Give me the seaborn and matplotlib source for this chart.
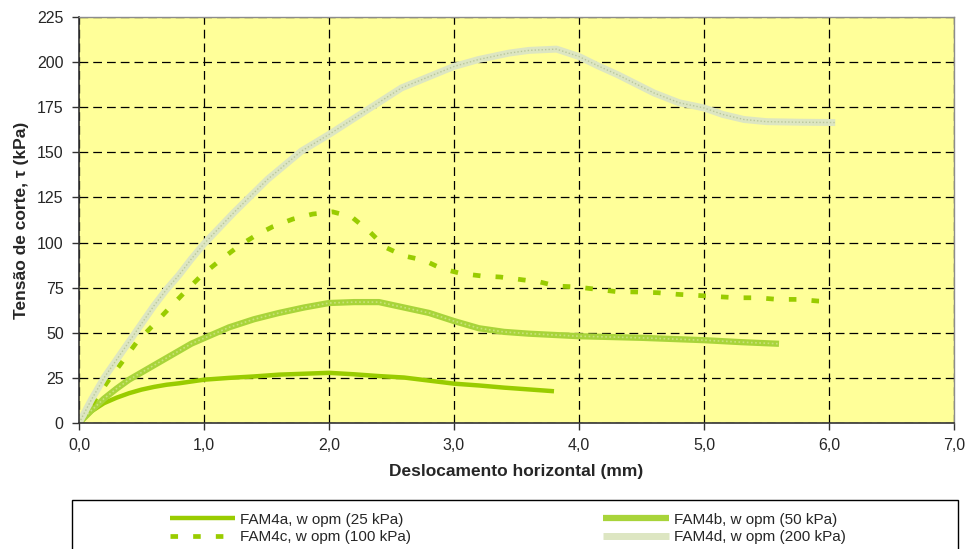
import matplotlib
matplotlib.use("Agg")
import matplotlib.pyplot as plt
import pandas as pd
import seaborn as sns
from matplotlib.patches import Rectangle
from matplotlib.lines import Line2D

# leituras do gráfico (deslocamento em mm, tensão em kPa)
x_25 = [0, 0.1, 0.2, 0.3, 0.4, 0.5, 0.6, 0.7, 0.8, 1.0, 1.2, 1.4, 1.6, 1.8, 2.0,
        2.2, 2.4, 2.6, 2.8, 3.0, 3.2, 3.4, 3.6, 3.8]
y_25 = [0, 6.5, 11, 14, 16.5, 18.5, 20, 21.2, 22, 24, 25, 25.8, 26.8, 27.3, 27.8,
        27, 26, 25.2, 23.5, 21.8, 20.8, 19.6, 18.6, 17.6]

x_50 = [0, 0.1, 0.2, 0.3, 0.4, 0.5, 0.6, 0.7, 0.8, 0.9, 1.0, 1.2, 1.4, 1.6, 1.8,
        2.0, 2.2, 2.4, 2.6, 2.8, 3.0, 3.2, 3.4, 3.6, 3.8, 4.0, 4.5, 5.0, 5.3, 5.6]
y_50 = [0, 7, 13.5, 19, 24, 28, 32, 36, 40, 44, 47, 53, 57.5, 61, 64,
        66.5, 67, 67, 64, 61, 56.5, 52.5, 50.5, 49.5, 48.8, 48.1, 47.2, 45.9, 44.8, 43.9]

x_100 = [0, 0.12, 0.24, 0.36, 0.46, 0.60, 0.73, 0.85, 0.98, 1.12, 1.28, 1.42, 1.55,
         1.71, 1.87, 2.03, 2.18, 2.33, 2.45, 2.60, 2.76, 2.90, 3.06, 3.22, 3.37,
         3.52, 3.69, 3.82, 3.98, 4.14, 4.30, 4.47, 4.63, 4.79, 4.95, 5.11, 5.27,
         5.43, 5.59, 5.75, 5.91, 6.0]
y_100 = [0, 12, 24, 35.2, 44.6, 54.7, 64.2, 72.8, 81.8, 89.7, 98.2, 104.2, 108.8,
         113, 115.8, 117, 114.3, 105.7, 97.4, 92.6, 90.2, 85.6, 82.8, 81.5, 80.9,
         79.6, 78.1, 75.9, 75.4, 74.1, 72.8, 72.6, 72.2, 71.3, 70.7, 70, 69.4,
         69.4, 68.5, 68.5, 67.6, 67.4]

x_200 = [0, 0.1, 0.2, 0.3, 0.4, 0.5, 0.6, 0.7, 0.8, 0.9, 1.0, 1.24, 1.51, 1.78, 2.0,
         2.31, 2.58, 3.0, 3.2, 3.44, 3.6, 3.82, 4.0, 4.15, 4.31, 4.6, 4.8, 5.0,
         5.15, 5.32, 5.5, 5.76, 6.05]
y_200 = [0, 13, 25, 35, 45, 55, 65, 74, 82, 91, 99.3, 116.7, 135.1, 150.7, 159.9,
         173.7, 185.7, 197.6, 201.5, 205, 206.5, 207.2, 203.1, 198, 193, 182.9,
         177.5, 174.6, 171, 168.2, 167, 166.7, 166.5]

rotulos = ["FAM4a, w opm (25 kPa)", "FAM4b, w opm (50 kPa)",
           "FAM4c, w opm (100 kPa)", "FAM4d, w opm (200 kPa)"]
x_ticks = [0, 1, 2, 3, 4, 5, 6, 7]
y_ticks = [0, 25, 50, 75, 100, 125, 150, 175, 200, 225]

sns.set_style("white")
plt.rcParams["font.family"] = ["Liberation Sans", "DejaVu Sans"]

fig = plt.figure(figsize=(9.69, 5.49), dpi=100)
ax = fig.add_axes([79 / 969, 1 - 423 / 549, (954 - 79) / 969, (423 - 17) / 549])
ax.set_facecolor("#FFFF99")

verde = "#99CC00"
estilos = [
    dict(color=verde, lw=3.2),
    dict(color="#A8D43A", lw=4.5),
    dict(color=verde, lw=3.4, dashes=(1.6, 3.2)),
    dict(color="#DDE6C2", lw=5),
]
series = [(x_25, y_25), (x_50, y_50), (x_100, y_100), (x_200, y_200)]

for (xs, ys), nome, st in zip(series, rotulos, estilos):
    df = pd.DataFrame({"x": xs, "y": ys})
    kw = dict(color=st["color"], linewidth=st["lw"], solid_capstyle="butt")
    if "dashes" in st:
        kw["dashes"] = st["dashes"]
        kw["dash_capstyle"] = "butt"
    sns.lineplot(data=df, x="x", y="y", ax=ax, sort=False, estimator=None, **kw)
    if nome.startswith("FAM4d"):
        # textura clara da série de 200 kPa
        ax.plot(xs, ys, color="#B9C79A", lw=1.0, ls=(0, (1, 1.5)))
    if nome.startswith("FAM4b"):
        ax.plot(xs, ys, color="#C8E27A", lw=1.2, ls=(0, (1, 1.5)))

ax.set_xlim(0, 7)
ax.set_ylim(0, 225)
ax.set_xticks(x_ticks)
ax.set_xticklabels([f"{v:.1f}".replace(".", ",") for v in x_ticks])
ax.set_yticks(y_ticks)
ax.tick_params(axis="both", direction="out", length=5, width=1, color="#333333",
               labelsize=11.5, pad=6, bottom=True, left=True)

ax.grid(True, color="black", linestyle=(0, (7, 4)), linewidth=0.9)
for s in ["left", "bottom"]:
    ax.spines[s].set_color("#333333")
    ax.spines[s].set_linewidth(1.2)
for s in ["top", "right"]:
    ax.spines[s].set_color("#8C8C8C")
    ax.spines[s].set_linewidth(1.0)

ax.set_xlabel("Deslocamento horizontal (mm)", fontsize=12.5, fontweight="bold", labelpad=8)
ax.set_ylabel("Tensão de corte, τ (kPa)", fontsize=12.5, fontweight="bold", labelpad=6)

# caixa da legenda (cortada pela margem inferior, como no original)
fig.patches.append(Rectangle((72 / 969, -0.05), (958 - 72) / 969, (549 - 500) / 549 + 0.05,
                             transform=fig.transFigure, fill=False, edgecolor="black",
                             linewidth=1.0, clip_on=False))

handles = []
for st in estilos:
    h = Line2D([], [], color=st["color"], lw=st["lw"], solid_capstyle="butt")
    if "dashes" in st:
        h.set_dashes(st["dashes"])
    handles.append(h)

# ordem para ncol=2: coluna 1 (a, c), coluna 2 (b, d)
ordem = [0, 2, 1, 3]
fig.legend([handles[i] for i in ordem], [rotulos[i] for i in ordem], ncol=2,
           loc="upper left", bbox_to_anchor=(162 / 969, 1 - 505 / 549), frameon=False,
           fontsize=11, handlelength=4.3, handletextpad=0.3, columnspacing=12.6,
           labelspacing=0.25, borderpad=0)

fig.savefig("out.png", dpi=100)
